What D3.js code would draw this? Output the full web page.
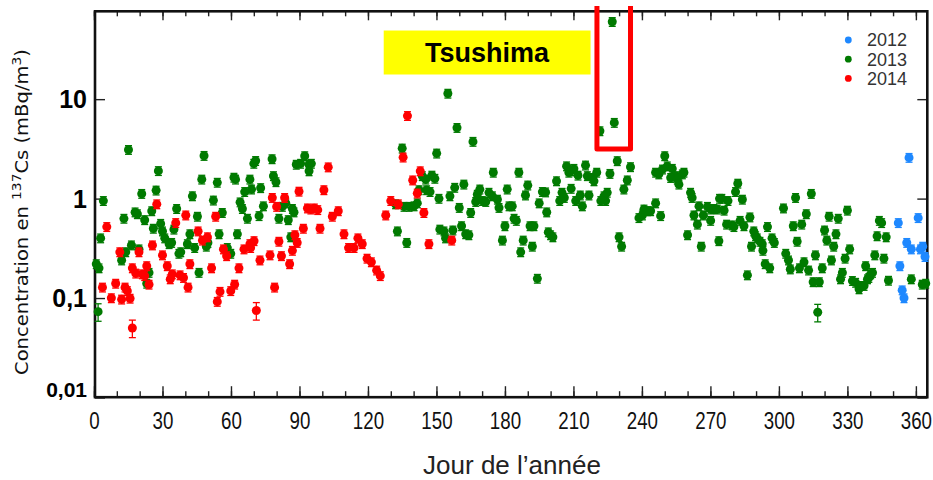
<!DOCTYPE html>
<html><head><meta charset="utf-8">
<script src="https://cdn.jsdelivr.net/npm/d3@7"></script>
<style>body{margin:0;background:#fff}svg{display:block}</style>
</head><body><svg id="c" width="933" height="480"></svg>
<script>
// ---- data: [day of year, 137Cs concentration mBq/m3] ----
const data2012 = [[352.3,0.57],[353.0,0.21],[354.0,0.12],[354.8,0.10],[356.0,0.36],[357.0,2.58],[358.0,0.31],[361.0,0.64],[362.0,0.31],[363.0,0.33],[364.0,0.26]];
const data2013 = [[1.0,0.22],[2.2,0.20],[1.8,0.073],[2.9,0.40],[4.1,0.95],[12.1,0.24],[13.1,0.63],[13.9,0.29],[15.1,3.1],[16.4,0.34],[18.0,0.73],[19.0,0.70],[19.7,0.31],[20.9,1.12],[22.2,0.61],[23.1,0.14],[24.1,0.18],[25.3,0.75],[26.0,0.50],[27.2,1.21],[28.2,1.9],[29.2,0.56],[30.0,0.47],[31.0,0.40],[32.9,0.35],[34.0,0.36],[35.0,0.49],[36.2,0.79],[37.2,0.28],[38.0,0.29],[40.9,0.35],[42.0,0.44],[43.1,1.06],[44.1,0.32],[45.3,0.66],[46.0,0.18],[47.2,1.56],[48.2,2.7],[49.2,0.33],[49.9,0.36],[52.3,0.96],[54.0,1.45],[54.8,0.44],[56.2,0.72],[58.4,0.32],[59.9,0.28],[61.3,1.63],[62.0,1.56],[62.8,0.44],[64.0,0.92],[65.0,0.79],[66.0,1.17],[67.2,0.63],[68.3,1.56],[69.0,1.24],[70.0,2.25],[70.8,2.4],[72.3,0.67],[73.0,1.28],[74.2,0.84],[78.0,2.5],[78.6,1.69],[79.7,1.47],[81.0,0.63],[82.5,0.83],[84.0,0.90],[85.1,0.61],[86.2,0.41],[86.9,0.79],[87.6,0.73],[88.6,2.2],[90.5,2.25],[92.3,2.68],[94.2,2.2],[95.2,2.25],[94.2,1.89],
[132.1,0.88],[132.9,0.47],[135.0,3.2],[135.8,0.83],[137.0,0.36],[138.0,0.83],[140.2,0.84],[141.6,0.9],[142.4,1.22],[143.8,1.69],[145.3,1.56],[145.7,1.22],[147.2,1.17],[148.0,1.71],[149.3,1.59],[150.1,2.85],[151.1,1.0],[151.5,0.49],[153.3,0.47],[154.0,0.40],[155.0,11.4],[155.9,1.06],[157.2,0.48],[158.0,1.29],[159.0,5.16],[160.0,0.81],[161.0,0.53],[162.0,1.39],[162.8,0.44],[164.2,0.43],[165.0,0.72],[166.0,3.74],[167.2,0.93],[167.9,1.1],[169.0,1.24],[170.1,0.95],[171.6,0.93],[173.0,1.15],[174.5,1.06],[174.9,1.83],[176.7,0.98],[177.4,0.81],[178.9,0.38],[180.0,0.53],[181.0,1.24],[181.8,0.84],
[183.2,0.84],[184.0,0.63],[185.0,0.60],[186.1,1.83],[186.9,0.29],[188.0,0.38],[189.0,1.08],[190.0,1.36],[191.0,0.53],[192.0,0.33],[192.7,0.53],[194.2,0.157],[195.0,0.90],[196.4,1.17],[197.8,1.16],[198.3,0.73],[199.0,0.46],[200.0,0.43],[201.0,0.41],[202.6,1.5],[204.0,0.95],[205.0,1.15],[206.0,1.02],[207.0,2.12],[208.0,1.83],[208.8,1.89],[209.0,1.26],[210.2,2.0],[211.0,0.95],[212.0,1.71],[213.0,1.08],[213.9,0.84],[215.3,2.16],[216.1,1.69],[216.8,1.08],[218.3,1.62],[219.0,1.5],[220.2,1.83],[221.6,4.78],[222.0,0.95],[223.4,1.06],[224.1,0.95],[224.8,1.15],[226.0,1.78],[227.0,60],[227.9,5.8],[229.2,2.39],[230.0,0.41],[231.1,0.33],[232.1,1.24],[233.6,1.53],[235.0,2.08],
[238.7,0.64],[240.2,0.68],[240.9,0.78],[242.4,0.75],[243.8,0.75],[246.0,1.83],[246.0,0.9],[247.4,1.76],[248.2,0.67],[249.0,1.97],[250.0,2.68],[251.1,2.12],[252.6,1.62],[253.3,2.0],[254.8,1.69],[255.5,1.56],[256.2,1.39],[257.7,1.76],[258.4,1.83],[260.0,0.43],[261.3,1.15],[262.0,1.02],[262.8,0.68],[264.3,0.55],[265.0,0.84],[266.0,0.33],[266.9,0.68],[268.7,0.83],[270.1,0.78],[270.1,0.60],[271.5,0.79],[273.0,0.78],[273.7,0.375],[274.0,1.0],
[275.0,1.0],[276.0,0.76],[277.1,0.55],[277.7,0.95],[279.6,0.54],[280.3,0.52],[281.0,1.17],[282.0,1.42],[283.0,0.60],[284.0,0.98],[284.7,0.53],[286.2,0.17],[287.3,0.65],[288.0,0.33],[289.0,0.47],[289.8,0.42],[290.5,0.40],[291.7,0.37],[292.7,0.35],[293.0,0.30],[294.0,0.22],[295.0,0.52],[296.0,0.20],[297.0,0.40],[298.0,0.36],[302.0,0.80],[303.0,0.28],[304.2,0.24],[305.0,0.195],[306.3,0.53],[307.3,1.02],[308.0,0.37],[309.0,0.20],[310.0,0.55],[311.0,0.23],[312.0,0.70],[313.0,0.19],[314.2,1.12],[315.0,0.145],[316.0,0.27],[317.0,0.072],[317.7,0.145],[319.0,0.20],[320.0,0.48],[321.0,0.38],[322.0,0.66],[323.0,0.24],[324.0,0.33],[325.0,0.44],[326.0,0.63],[327.0,0.155],[327.8,0.18],[329.0,0.25],[330.0,0.76],[331.0,0.31],[332.2,0.149],[333.6,0.143],[335.1,0.123],[335.8,0.133],[337.3,0.133],[338.0,0.21],[338.8,0.155],[339.4,0.16],[340.2,0.174],[341.0,0.18],[342.0,0.27],[343.0,0.42],[344.0,0.60],[345.0,0.57],[346.0,0.25],[347.0,0.41],[348.0,0.15],[358.0,0.155],[362.8,0.137],[364.3,0.14]];
const data2014 = [[3.7,0.128],[5.6,0.52],[7.6,0.10],[9.5,0.14],[11.3,0.29],[12.1,0.097],[13.6,0.128],[14.6,0.118],[15.8,0.099],[16.8,0.20],[16.8,0.05],[18.3,0.177],[19.7,0.29],[21.2,0.174],[22.2,0.167],[23.1,0.21],[24.1,0.137],[25.6,0.34],[27.5,0.88],[30.0,0.27],[32.1,0.21],[33.4,0.155],[34.3,0.174],[35.8,0.57],[37.7,0.17],[39.2,0.16],[40.2,0.68],[41.2,0.128],[42.0,0.22],[45.6,0.47],[47.5,0.38],[49.7,0.41],[51.5,0.20],[53.3,0.66],[54.0,0.092],[55.2,0.116],[56.7,0.31],[58.1,0.265],[59.9,0.118],[61.6,0.137],[63.5,0.20],[65.7,0.31],[68.3,0.35],[68.6,0.32],[70.1,0.375],[71.1,0.075],[72.7,0.24],[77.1,0.27],[78.1,1.02],[79.1,0.128],[80.0,0.83],[81.0,0.37],[82.1,0.265],[83.5,1.02],[85.7,0.22],[86.9,0.30],[88.0,0.43],[89.0,0.36],[89.8,1.18],[91.7,0.50],[93.5,0.80],[95.0,0.78],[96.5,0.80],[98.0,0.77],[99.0,0.50],[100.7,1.22],[102.6,2.07],[104.4,0.66],[107.0,0.75],[109.5,0.44],[111.5,0.32],[113.9,0.32],[115.6,0.40],[117.5,0.35],[119.6,0.25],[121.5,0.23],[123.8,0.19],[125.4,0.167],[127.8,0.68],[130.0,0.95],[133.3,0.88],[135.4,2.6],[137.3,6.8],[139.6,1.53],[141.6,1.13],[142.9,1.89],[144.5,0.72],[146.7,0.35],[156.7,0.38]];

const seriesNames = ["2012", "2013", "2014"];
const seriesColors = ["#1e88ff", "#007a00", "#ff0000"];
const xMajorTicks = [0, 30, 60, 90, 120, 150, 180, 210, 240, 270, 300, 330, 360];
const xMinorTicks = d3.range(0, 366, 10);
const yTicks = [0.01, 0.1, 1, 10];
const yTickLabels = ["0,01", "0,1", "1", "10"];
const xTitle = "Jour de l\u2019ann\u00e9e";
const tsushimaText = "Tsushima";
const tsushimaBox = {d0: 126.9, d1: 217.5, v0: 17.7, v1: 49};   // label box, data coords
const highlight = {d0: 220.3, d1: 235.0, v0: 3.15};              // red frame, data coords

// ---- scales ----
const svg = d3.select("#c");
const x = d3.scaleLinear().domain([0, 365]).range([94, 927.3]);
const y = d3.scaleLog().domain([0.01, 77]).range([397.5, 11]);
const L = 95, R = 927.3, T = 11.3, B = 397.2;

// Tsushima label
svg.append("rect").attr("x", x(tsushimaBox.d0)).attr("y", y(tsushimaBox.v1))
  .attr("width", x(tsushimaBox.d1) - x(tsushimaBox.d0)).attr("height", y(tsushimaBox.v0) - y(tsushimaBox.v1))
  .attr("fill", "#ffff00");
svg.append("text").attr("x", (x(tsushimaBox.d0) + x(tsushimaBox.d1)) / 2).attr("y", (y(tsushimaBox.v0) + y(tsushimaBox.v1)) / 2)
  .attr("dy", "0.36em").attr("text-anchor", "middle")
  .style("font", "bold 27px 'Liberation Sans', Arial, sans-serif").attr("fill", "#000").text(tsushimaText);

// ticks (inside)
const gxb = svg.append("g").attr("transform", `translate(0,${B})`);
gxb.call(d3.axisBottom(x).tickValues(xMinorTicks).tickSize(-6).tickFormat(""));
const gxb2 = svg.append("g").attr("transform", `translate(0,${B})`);
gxb2.call(d3.axisBottom(x).tickValues(xMajorTicks).tickSize(-11).tickPadding(15).tickFormat(d3.format("d")));
const gxt = svg.append("g").attr("transform", `translate(0,${T})`);
gxt.call(d3.axisTop(x).tickValues(xMinorTicks).tickSize(-5).tickFormat(""));
const gxt2 = svg.append("g").attr("transform", `translate(0,${T})`);
gxt2.call(d3.axisTop(x).tickValues(xMajorTicks).tickSize(-9).tickFormat(""));
const gyl = svg.append("g").attr("transform", `translate(${L},0)`);
gyl.call(d3.axisLeft(y).tickValues(yTicks).tickSize(-10).tickPadding(8).tickFormat(d => yTickLabels[yTicks.indexOf(d)]));
const gyr = svg.append("g").attr("transform", `translate(${R},0)`);
gyr.call(d3.axisRight(y).tickValues(yTicks).tickSize(-10).tickFormat(""));
svg.selectAll(".domain").remove();
svg.selectAll(".tick line").attr("stroke", "#222").attr("stroke-width", 1.4);
gxb2.selectAll("text").style("font", "24px 'Liberation Sans', Arial, sans-serif")
  .attr("fill", "#111").attr("transform", "scale(0.78,1)");
gyl.selectAll("text").style("font-family", "'Liberation Sans', Arial, sans-serif").style("font-weight", "bold")
  .style("font-size", d => d === 0.01 ? "21px" : "25px").attr("fill", "#000")
  .attr("dy", d => d === 0.01 ? "-0.05em" : "0.35em");

// frame
svg.append("rect").attr("x", L).attr("y", T).attr("width", R - L).attr("height", B - T)
  .attr("fill", "none").attr("stroke", "#111").attr("stroke-width", 2.6);

// points with error bars
const plotSeries = [[data2013, 1], [data2014, 2], [data2012, 0]];
plotSeries.forEach(([arr, k]) => {
  const col = seriesColors[k];
  const g = svg.append("g");
  const pt = g.selectAll("g").data(arr).join("g");
  const rel = d => d[1] < 0.09 ? 0.2 : 0.1;
  pt.append("line").attr("x1", d => x(d[0])).attr("x2", d => x(d[0]))
    .attr("y1", d => y(d[1] * (1 + rel(d)))).attr("y2", d => y(d[1] * (1 - rel(d))))
    .attr("stroke", col).attr("stroke-width", 1.3);
  pt.append("line").attr("x1", d => x(d[0]) - 3.5).attr("x2", d => x(d[0]) + 3.5)
    .attr("y1", d => y(d[1] * (1 + rel(d)))).attr("y2", d => y(d[1] * (1 + rel(d))))
    .attr("stroke", col).attr("stroke-width", 1.3);
  pt.append("line").attr("x1", d => x(d[0]) - 3.5).attr("x2", d => x(d[0]) + 3.5)
    .attr("y1", d => y(d[1] * (1 - rel(d)))).attr("y2", d => y(d[1] * (1 - rel(d))))
    .attr("stroke", col).attr("stroke-width", 1.3);
  pt.append("circle").attr("cx", d => x(d[0])).attr("cy", d => y(d[1])).attr("r", 4.5).attr("fill", col);
});

// highlight frame (open top)
const hx0 = x(highlight.d0), hx1 = x(highlight.d1), hy = y(highlight.v0);
svg.append("path").attr("d", `M${hx0},6 L${hx0},${hy} L${hx1},${hy} L${hx1},6`)
  .attr("fill", "none").attr("stroke", "#ff0000").attr("stroke-width", 5).attr("stroke-linejoin", "round");

// legend
const lg = svg.append("g");
seriesNames.forEach((n, i) => {
  lg.append("circle").attr("cx", 848.3).attr("cy", 40 + i * 19.2).attr("r", 3.4).attr("fill", seriesColors[i]);
  lg.append("text").attr("x", 867).attr("y", 40 + i * 19.2).attr("dy", "0.35em")
    .style("font", "18px 'Liberation Sans', Arial, sans-serif").attr("fill", "#333").text(n);
});

// axis titles
svg.append("text").attr("x", 512).attr("y", 474).attr("text-anchor", "middle")
  .style("font", "26px 'Liberation Sans', Arial, sans-serif").attr("fill", "#222").text(xTitle);
const yt = svg.append("text").attr("transform", "translate(28,212) rotate(-90)").attr("text-anchor", "middle")
  .style("font", "17px 'DejaVu Sans', sans-serif").attr("fill", "#111")
  .attr("textLength", 326).attr("lengthAdjust", "spacingAndGlyphs");
yt.append("tspan").text("Concentration en ");
yt.append("tspan").attr("baseline-shift", "super").style("font-size", "12px").text("137");
yt.append("tspan").text("Cs (mBq/m");
yt.append("tspan").attr("baseline-shift", "super").style("font-size", "12px").text("3");
yt.append("tspan").text(")");
</script></body></html>
